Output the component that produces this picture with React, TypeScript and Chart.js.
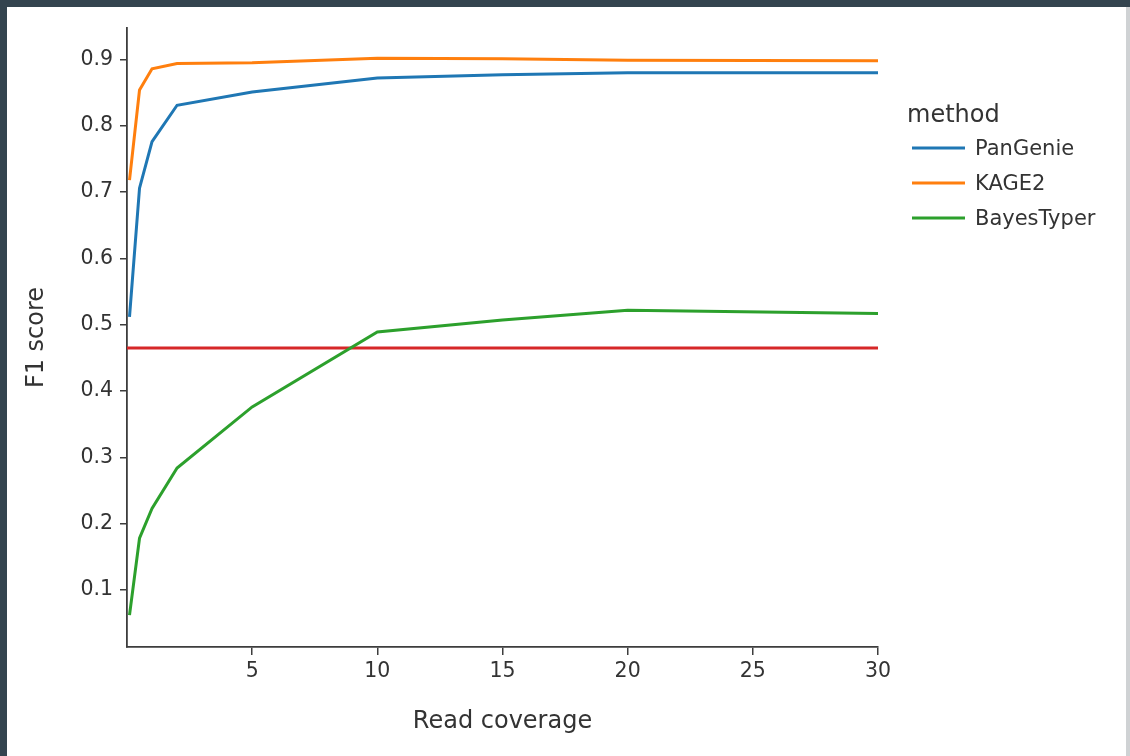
import React, { useEffect, useRef } from "react";
import { Chart, registerables } from "chart.js";

Chart.register(...registerables);

// ---- data ----
const coverage = [0.1, 0.5, 1, 2, 5, 10, 15, 20, 30];
const pangenie = [0.512, 0.706, 0.776, 0.831, 0.851, 0.872, 0.877, 0.88, 0.88];
const kage2 = [0.718, 0.854, 0.886, 0.894, 0.895, 0.902, 0.901, 0.899, 0.898];
const bayestyper = [0.062, 0.178, 0.223, 0.284, 0.376, 0.489, 0.507, 0.522, 0.517];
const methods = ["PanGenie", "KAGE2", "BayesTyper"];
const methodColors = ["#1f77b4", "#ff7f0e", "#2ca02c"];
const refLineX = [0, 30];
const refLineValue = 0.465;
const refLineColor = "#d62728";
const xTicks = [5, 10, 15, 20, 25, 30];
const yTicks = [0.1, 0.2, 0.3, 0.4, 0.5, 0.6, 0.7, 0.8, 0.9];
const xLabel = "Read coverage";
const yLabel = "F1 score";
const legendTitle = "method";

const FONT = "'DejaVu Sans', sans-serif";
const TEXT = "#333333";
const AXIS = "#3d3d3d";

const legendPlugin = {
  id: "methodLegend",
  afterDraw(chart: any) {
    const ctx = chart.ctx;
    const area = chart.chartArea;
    const x0 = area.right + 29;
    ctx.save();
    ctx.fillStyle = TEXT;
    ctx.textBaseline = "middle";
    ctx.textAlign = "left";
    ctx.font = `24px ${FONT}`;
    ctx.fillText(legendTitle, x0, 109);
    ctx.font = `21px ${FONT}`;
    const items = chart.data.datasets.filter((d: any) => !d.isRef);
    items.forEach((d: any, i: number) => {
      const y = 141 + i * 35;
      ctx.strokeStyle = d.borderColor;
      ctx.lineWidth = 3;
      ctx.beginPath();
      ctx.moveTo(x0 + 5, y);
      ctx.lineTo(x0 + 58, y);
      ctx.stroke();
      ctx.fillStyle = TEXT;
      ctx.fillText(d.label, x0 + 68, y + 2);
    });
    ctx.restore();
  },
};

export default function App() {
  const ref = useRef<HTMLCanvasElement | null>(null);

  useEffect(() => {
    if (!ref.current) return;
    const series = [pangenie, kage2, bayestyper];
    const datasets: any[] = methods.map((m, i) => ({
      label: m,
      data: coverage.map((c, j) => ({ x: c, y: series[i][j] })),
      borderColor: methodColors[i],
      backgroundColor: methodColors[i],
      borderWidth: 3,
      pointRadius: 0,
      tension: 0,
      fill: false,
    }));
    datasets.push({
      label: "reference",
      isRef: true,
      data: refLineX.map((x) => ({ x, y: refLineValue })),
      borderColor: refLineColor,
      backgroundColor: refLineColor,
      borderWidth: 3,
      pointRadius: 0,
      fill: false,
    });

    const chart = new Chart(ref.current, {
      type: "line",
      data: { datasets },
      options: {
        animation: false,
        responsive: false,
        maintainAspectRatio: false,
        layout: { padding: { top: 21, right: 248, bottom: 0, left: 0 } },
        plugins: { legend: { display: false }, tooltip: { enabled: false } },
        scales: {
          x: {
            type: "linear",
            min: 0,
            max: 30,
            afterBuildTicks: (s: any) => {
              s.ticks = xTicks.map((v) => ({ value: v }));
            },
            afterFit: (s: any) => {
              s.height = 109;
            },
            grid: { drawOnChartArea: false, drawTicks: true, tickLength: 8, color: AXIS, lineWidth: 1.5 },
            border: { display: true, color: AXIS, width: 1.8 },
            ticks: {
              color: TEXT,
              font: { family: FONT, size: 20.5 },
              padding: 4,
              maxRotation: 0,
              autoSkip: false,
              callback: (v: any) => String(v),
            },
            title: {
              display: true,
              text: xLabel,
              color: TEXT,
              font: { family: FONT, size: 24 },
              padding: { top: 0, bottom: 20 },
            },
          },
          y: {
            type: "linear",
            min: 0.014,
            max: 0.9475,
            afterBuildTicks: (s: any) => {
              s.ticks = yTicks.map((v) => ({ value: v }));
            },
            afterFit: (s: any) => {
              s.width = 120;
            },
            grid: { drawOnChartArea: false, drawTicks: true, tickLength: 7, color: AXIS, lineWidth: 1.5 },
            border: { display: true, color: AXIS, width: 1.8 },
            ticks: {
              color: TEXT,
              font: { family: FONT, size: 20.5 },
              padding: 7,
              autoSkip: false,
              callback: (v: any) => Number(v).toFixed(1),
            },
            title: {
              display: true,
              text: yLabel,
              color: TEXT,
              font: { family: FONT, size: 24 },
              padding: { top: 15, bottom: 0 },
            },
          },
        },
      } as any,
      plugins: [legendPlugin],
    });
    return () => chart.destroy();
  }, []);

  return (
    <div style={{ position: "fixed", left: 0, top: 0, width: 1130, height: 756, background: "#34444f" }}>
      <div style={{ position: "absolute", left: 1126, top: 7, width: 4, height: 749, background: "#cfd2d4" }} />
      <div style={{ position: "absolute", left: 7, top: 7, width: 1119, height: 749, background: "#ffffff" }}>
        <canvas ref={ref} width={1119} height={749} style={{ display: "block", width: 1119, height: 749 }} />
      </div>
    </div>
  );
}
